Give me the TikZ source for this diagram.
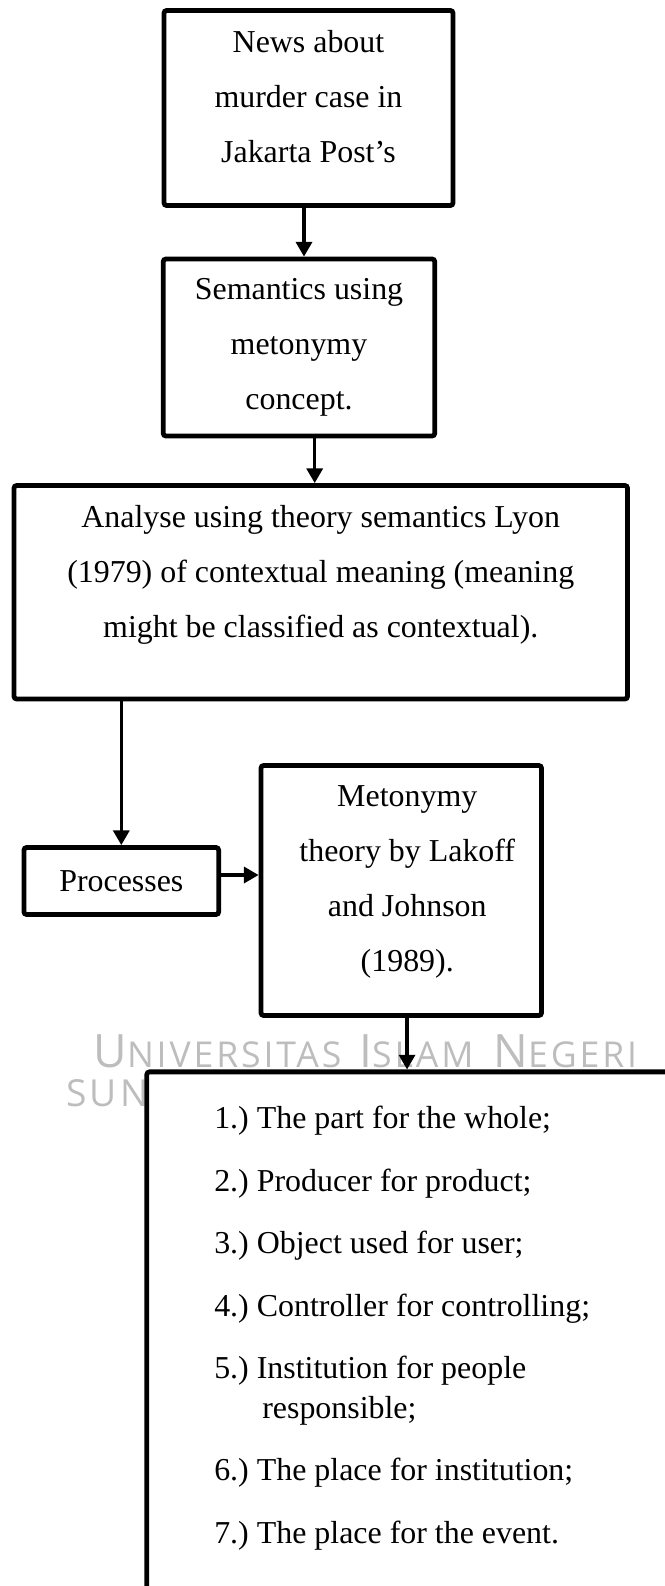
\documentclass[tikz,border=0pt]{standalone}
\usepackage{fontspec}
\setmainfont{Liberation Serif}
\newfontfamily\wmfont[LetterSpace=8]{Open Sans}
\usetikzlibrary{arrows.meta}
\frenchspacing

\newlength\pxu
\setlength\pxu{0.376pt}
\newcommand{\wmcap}[2]{{\fontsize{17.3pt}{17pt}\selectfont #1}{\fontsize{13.4pt}{13pt}\selectfont #2}}

\begin{document}
\begin{tikzpicture}[x=0.376pt,y=-0.376pt]
\useasboundingbox (0,0) rectangle (665,1586);

% watermark behind the boxes (base = last line)
\node[anchor=base west,inner sep=0pt,align=left,text=black!26,font=\wmfont\fontsize{13.4pt}{14.4pt}\selectfont] (wm) at (66,1106) {\hspace*{27\pxu}\wmcap{U}{NIVERSITAS}\hspace*{18\pxu}\wmcap{I}{SLAM}\hspace*{20\pxu}\wmcap{N}{EGERI}\\
    {\fontsize{14pt}{14pt}\selectfont SUN}};

\begin{scope}[every node/.style={draw,line width=1.8pt,rounded corners=1pt,fill=white,align=center,inner sep=0pt,font=\fontsize{12pt}{20.7pt}\selectfont}]
    \node[minimum width=289*\pxu,minimum height=195*\pxu] (news) at (308.5,108) {News about\\ murder case in\\ Jakarta Post’s\rule[-24\pxu]{0pt}{24\pxu}};
    \node[minimum width=271.5*\pxu,minimum height=177*\pxu] (sem) at (299,347.5) {Semantics using\\ metonymy\\ concept.};
    \node[minimum width=613.5*\pxu,minimum height=213.5*\pxu] (analyse) at (320.75,592.25) {Analyse using theory semantics Lyon\\ (1979) of contextual meaning (meaning\\ might be classified as contextual).\rule[-41\pxu]{0pt}{41\pxu}};
    \node[minimum width=194.7*\pxu,minimum height=67*\pxu] (proc) at (121.3,881) {Processes};
    \node[minimum width=280.5*\pxu,minimum height=250*\pxu] (meto) at (401.25,890.5) {\hspace*{12\pxu}Metonymy\\ \hspace*{12\pxu}theory by Lakoff\\ \hspace*{12\pxu}and Johnson\\ \hspace*{12\pxu}(1989).\rule[-24\pxu]{0pt}{24\pxu}};
    \node[minimum width=553*\pxu,minimum height=578*\pxu] (list) at (423.35,1360.85) {};
\end{scope}

\node[anchor=north west,inner sep=0pt,align=left,font=\fontsize{12pt}{14.7pt}\selectfont] (items) at ([xshift=69.3*\pxu,yshift=-36.5*\pxu]list.north west) {1.) The part for the whole;\\[8.8pt]
    2.) Producer for product;\\[8.8pt]
    3.) Object used for user;\\[8.8pt]
    4.) Controller for controlling;\\[8.8pt]
    5.) Institution for people\\
    \hspace*{48\pxu}responsible;\\[8.8pt]
    6.) The place for institution;\\[8.8pt]
    7.) The place for the event.};

\begin{scope}[>={Triangle[width=6pt,length=5.5pt]},every edge/.style={draw=black,line width=1.2pt}]
    \path [->] ([xshift=-4.5*\pxu]news.south) edge ([xshift=-4.5*\pxu]news.south |- sem.north);
    \path [->] ([xshift=15.7*\pxu]sem.south) edge ([xshift=15.7*\pxu]sem.south |- analyse.north);
    \path [->] (proc.north |- analyse.south) edge (proc.north);
    \path [->] ([yshift=6*\pxu]proc.east) edge ([yshift=6*\pxu]proc.east -| meto.west);
    \path [->] ([xshift=5.8*\pxu]meto.south) edge ([xshift=5.8*\pxu]meto.south |- list.north);
\end{scope}
\end{tikzpicture}
\end{document}
